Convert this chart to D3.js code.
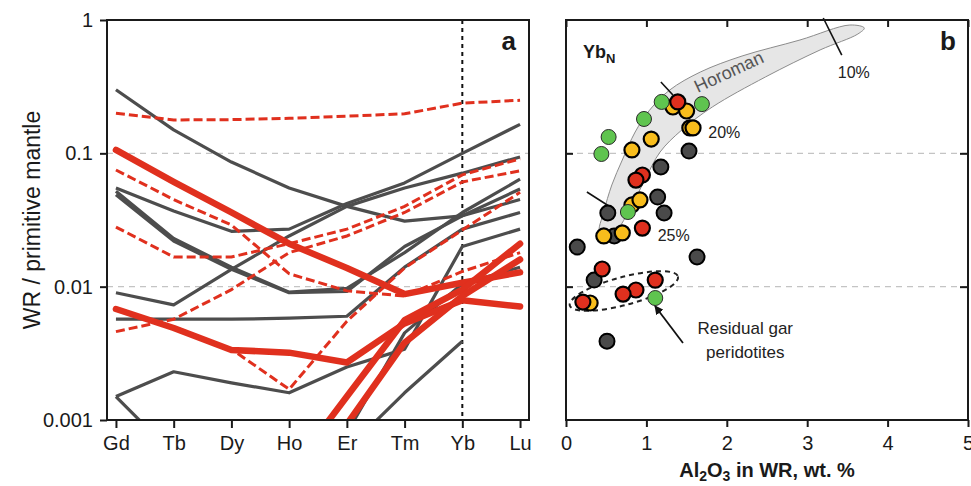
<!DOCTYPE html>
<html>
<head>
<meta charset="utf-8">
<script src="https://cdn.jsdelivr.net/npm/d3@7"></script>
<style>
  body { margin: 0; background: #fff; }
  text { font-family: "Liberation Sans", Arial, sans-serif; }
</style>
</head>
<body>
<div id="chart"></div>
<script>
// ---- data: panel a (REE patterns, WR / primitive mantle) ----
var elements = ["Gd", "Tb", "Dy", "Ho", "Er", "Tm", "Yb", "Lu"];

var grayLines = [
  [0.3, 0.15, 0.086, 0.055, 0.04, 0.031, 0.034, 0.045],
  [0.055, 0.037, 0.026, 0.027, 0.042, 0.06, 0.1, 0.165],
  [0.009, 0.0073, 0.0135, 0.024, 0.04, 0.055, 0.071, 0.094],
  [0.052, 0.023, 0.014, 0.0091, 0.0097, 0.018, 0.036, 0.064],
  [0.049, 0.022, 0.0135, 0.009, 0.0092, 0.02, 0.034, 0.054],
  [0.0057, 0.0057, 0.0057, 0.0058, 0.006, 0.014, 0.027, 0.036],
  [0.0015, 0.0023, 0.0019, 0.0016, 0.0025, 0.0034, 0.02, 0.027],
  [0.0015, 0.00055, 0.0004, 0.0004, 0.0008, 0.0045, 0.0105, 0.014],
  [null, null, null, null, 0.0006, 0.0016, 0.0039, null]
];

var dashedLines = [
  [0.2, 0.178, 0.179, 0.183, 0.19, 0.198, 0.238, 0.25],
  [0.075, 0.045, 0.029, 0.0125, 0.0093, 0.0085, 0.013, 0.018],
  [0.028, 0.0167, 0.0167, 0.021, 0.027, 0.04, 0.069, 0.091],
  [0.0046, 0.0057, 0.0095, 0.018, 0.024, 0.036, 0.061, 0.074],
  [0.0068, 0.005, 0.0034, 0.0017, 0.0055, 0.0138, 0.0266, 0.051]
];

var thickLines = [
  [0.106, 0.061, 0.036, 0.021, 0.0138, 0.0088, 0.0107, 0.0128],
  [0.0068, 0.0049, 0.00335, 0.0032, 0.0027, 0.0053, 0.0079, 0.0071],
  [null, null, null, 0.0004, 0.0015, 0.0056, 0.0095, 0.021],
  [null, null, null, null, 0.00093, 0.0038, 0.0085, 0.016]
];

var yTicks = [0.001, 0.01, 0.1, 1];
var yTickLabels = ["0.001", "0.01", "0.1", "1"];

// ---- data: panel b (Yb_N vs Al2O3) ----
var grayPts = [[1.53, 0.104], [1.18, 0.079], [1.14, 0.047], [0.52, 0.0357], [1.22, 0.0357],
  [0.6, 0.024], [0.14, 0.0198], [1.63, 0.0167], [0.35, 0.0112], [0.51, 0.0039]];
var yellowPts = [[1.33, 0.2226], [1.5, 0.2077], [1.54, 0.155], [1.58, 0.155], [1.06, 0.128],
  [0.82, 0.106], [0.82, 0.041], [0.92, 0.0447], [0.47, 0.024], [0.7, 0.0253], [0.3, 0.00754]];
var greenPts = [[1.19, 0.243], [1.69, 0.234], [0.97, 0.181], [0.53, 0.1326], [0.44, 0.0989],
  [0.77, 0.0363], [1.11, 0.00822]];
var redPts = [[1.39, 0.243], [0.95, 0.0688], [0.87, 0.063], [0.95, 0.0275], [0.45, 0.01357],
  [1.11, 0.0112], [0.87, 0.00944], [0.71, 0.0088], [0.21, 0.00767]];

// Horoman field outline (Al2O3, Yb_N)
var horomanUpper = [[0.42, 0.0257], [0.47, 0.0363], [0.57, 0.0579], [0.7, 0.0891], [0.86, 0.1445],
  [1.04, 0.211], [1.29, 0.2985], [1.67, 0.407], [2.19, 0.537], [2.91, 0.708], [3.53, 0.917], [3.71, 0.871]];
var horomanLower = [[3.63, 0.785], [3.16, 0.596], [2.48, 0.3737], [1.82, 0.2226], [1.44, 0.1496],
  [1.17, 0.1023], [0.98, 0.0631], [0.82, 0.041], [0.6, 0.0257]];

var meltTicks = [
  { label: "10%", from: [3.2, 1.035], to: [3.43, 0.546], at: [3.38, 0.367] },
  { label: "20%", from: [1.18, 0.343], to: [1.33, 0.274], at: [1.77, 0.13] },
  { label: "25%", from: [0.26, 0.0513], to: [0.61, 0.0376], at: [1.14, 0.022] }
];

var W = 971, H = 486;
var plotTop = 20, plotBottom = 420;
var aLeft = 107, aRight = 529, bLeft = 566, bRight = 968;

var svg = d3.select('#chart').append('svg')
  .attr('width', W).attr('height', H);

var y = d3.scaleLog().domain([0.001, 1]).range([plotBottom, plotTop]);
var xa = d3.scalePoint().domain(elements).range([aLeft, aRight]).padding(0.155);
var xb = d3.scaleLinear().domain([0, 5]).range([bLeft, bRight]);

var defs = svg.append('defs');
defs.append('clipPath').attr('id', 'clipA').append('rect')
  .attr('x', aLeft).attr('y', plotTop).attr('width', aRight - aLeft).attr('height', plotBottom - plotTop);
defs.append('marker').attr('id', 'arrow').attr('viewBox', '0 0 10 10')
  .attr('refX', 9).attr('refY', 5).attr('markerWidth', 5).attr('markerHeight', 5)
  .attr('orient', 'auto')
  .append('path').attr('d', 'M0,0 L10,5 L0,10 z').attr('fill', '#111');

// grid lines (dashed)
[0.1, 0.01].forEach(function (v) {
  [[aLeft, aRight], [bLeft, bRight]].forEach(function (r) {
    svg.append('line')
      .attr('x1', r[0]).attr('x2', r[1])
      .attr('y1', y(v)).attr('y2', y(v))
      .attr('stroke', '#c4c4c4').attr('stroke-width', 1.2)
      .attr('stroke-dasharray', '6,5');
  });
});

// ---------- panel a ----------
var gA = svg.append('g').attr('clip-path', 'url(#clipA)');

// Yb dotted marker
gA.append('line')
  .attr('x1', xa('Yb')).attr('x2', xa('Yb'))
  .attr('y1', plotTop).attr('y2', plotBottom)
  .attr('stroke', '#111').attr('stroke-width', 2).attr('stroke-dasharray', '4,4');

var line = d3.line()
  .defined(function (d) { return d != null; })
  .x(function (d, i) { return xa(elements[i]); })
  .y(function (d) { return y(d); });

gA.selectAll('.gray').data(grayLines).enter().append('path')
  .attr('class', 'gray')
  .attr('d', line)
  .attr('fill', 'none').attr('stroke', '#4d4d4d').attr('stroke-width', 3.2)
  .attr('stroke-linejoin', 'round');

gA.selectAll('.dash').data(dashedLines).enter().append('path')
  .attr('class', 'dash')
  .attr('d', line)
  .attr('fill', 'none').attr('stroke', '#e0301e').attr('stroke-width', 3)
  .attr('stroke-dasharray', '9,4');

gA.selectAll('.thick').data(thickLines).enter().append('path')
  .attr('class', 'thick')
  .attr('d', line)
  .attr('fill', 'none').attr('stroke', '#e0301e').attr('stroke-width', 6.5)
  .attr('stroke-linejoin', 'round').attr('stroke-linecap', 'round');

// axes a
svg.append('g').attr('transform', 'translate(' + aLeft + ',0)')
  .call(d3.axisLeft(y).tickValues(yTicks).tickSize(7).tickPadding(7)
    .tickFormat(function (d, i) { return yTickLabels[i]; }));
svg.append('g').attr('transform', 'translate(0,' + plotBottom + ')')
  .call(d3.axisBottom(xa).tickSize(8).tickPadding(8));

svg.append('rect')
  .attr('x', aLeft).attr('y', plotTop).attr('width', aRight - aLeft).attr('height', plotBottom - plotTop)
  .attr('fill', 'none').attr('stroke', '#1a1a1a').attr('stroke-width', 2);

svg.append('text')
  .attr('transform', 'translate(40,' + ((plotTop + plotBottom) / 2) + ') rotate(-90)')
  .attr('text-anchor', 'middle')
  .style('font-size', '23px').style('fill', '#1a1a1a')
  .text('WR / primitive mantle');

svg.append('text').attr('x', 516).attr('y', 50).attr('text-anchor', 'end')
  .style('font-size', '26px').style('font-weight', 'bold').style('fill', '#1a1a1a')
  .text('a');

// ---------- panel b ----------
var gB = svg.append('g');

var band = d3.line()
  .x(function (d) { return xb(d[0]); })
  .y(function (d) { return y(d[1]); })
  .curve(d3.curveCatmullRomClosed);

gB.append('path')
  .attr('d', band(horomanUpper.concat(horomanLower)))
  .attr('fill', '#e6e6e6').attr('stroke', '#8c8c8c').attr('stroke-width', 1);

gB.append('text')
  .attr('transform', 'translate(' + xb(1.64) + ',' + y(0.2835) + ') rotate(-25)')
  .style('font-size', '18px').style('fill', '#555')
  .text('Horoman');

meltTicks.forEach(function (m) {
  gB.append('line')
    .attr('x1', xb(m.from[0])).attr('y1', y(m.from[1]))
    .attr('x2', xb(m.to[0])).attr('y2', y(m.to[1]))
    .attr('stroke', '#111').attr('stroke-width', 1.6);
  gB.append('text')
    .attr('x', xb(m.at[0])).attr('y', y(m.at[1]))
    .style('font-size', '16px').style('fill', '#222')
    .text(m.label);
});

// residual garnet peridotite field
gB.append('ellipse')
  .attr('transform', 'translate(' + xb(0.72) + ',' + y(0.00928) + ') rotate(-15)')
  .attr('rx', 56).attr('ry', 14)
  .attr('fill', 'none').attr('stroke', '#222').attr('stroke-width', 2)
  .attr('stroke-dasharray', '5,4');

function drawPts(data, fill, stroke, sw) {
  gB.selectAll(null).data(data).enter().append('circle')
    .attr('cx', function (d) { return xb(d[0]); })
    .attr('cy', function (d) { return y(d[1]); })
    .attr('r', 7.5)
    .attr('fill', fill).attr('stroke', stroke).attr('stroke-width', sw);
}
drawPts(grayPts, '#4a4a4a', '#000', 2);
drawPts(yellowPts, '#f8bd1c', '#000', 2.2);
drawPts(greenPts, '#5fc44f', '#2a2a2a', 1);
drawPts(redPts, '#e0301e', '#000', 2.2);

gB.append('line')
  .attr('x1', xb(1.455)).attr('y1', y(0.00378))
  .attr('x2', xb(1.107)).attr('y2', y(0.00716))
  .attr('stroke', '#111').attr('stroke-width', 1.8)
  .attr('marker-end', 'url(#arrow)');

gB.append('text').attr('x', xb(2.23)).attr('y', y(0.00442)).attr('text-anchor', 'middle')
  .style('font-size', '17px').style('fill', '#222').text('Residual gar');
gB.append('text').attr('x', xb(2.23)).attr('y', y(0.00292)).attr('text-anchor', 'middle')
  .style('font-size', '17px').style('fill', '#222').text('peridotites');

// axes b
svg.append('g').attr('transform', 'translate(0,' + plotBottom + ')')
  .call(d3.axisBottom(xb).ticks(5).tickSize(7).tickPadding(9).tickFormat(d3.format('d')));
svg.append('g').attr('transform', 'translate(0,' + plotTop + ')')
  .call(d3.axisTop(xb).ticks(5).tickSize(-7).tickFormat(''));
svg.append('g').attr('transform', 'translate(' + bLeft + ',0)')
  .call(d3.axisLeft(y).tickValues([0.01, 0.1]).tickSize(-7).tickFormat(''));
svg.append('g').attr('transform', 'translate(' + bRight + ',0)')
  .call(d3.axisRight(y).tickValues([0.01, 0.1]).tickSize(-8).tickFormat(''));

svg.append('rect')
  .attr('x', bLeft).attr('y', plotTop).attr('width', bRight - bLeft).attr('height', plotBottom - plotTop)
  .attr('fill', 'none').attr('stroke', '#1a1a1a').attr('stroke-width', 2);

var yl = svg.append('text').attr('x', 583).attr('y', 58)
  .style('font-size', '18px').style('font-weight', 'bold').style('fill', '#1a1a1a');
yl.append('tspan').text('Yb');
yl.append('tspan').attr('dy', 5).style('font-size', '13px').text('N');

var xl = svg.append('text').attr('x', xb(2.5)).attr('y', 477).attr('text-anchor', 'middle')
  .style('font-size', '20px').style('font-weight', 'bold').style('fill', '#1a1a1a');
xl.append('tspan').text('Al');
xl.append('tspan').attr('dy', 4).style('font-size', '14px').text('2');
xl.append('tspan').attr('dy', -4).text('O');
xl.append('tspan').attr('dy', 4).style('font-size', '14px').text('3');
xl.append('tspan').attr('dy', -4).text(' in WR, wt. %');

svg.append('text').attr('x', 956).attr('y', 50).attr('text-anchor', 'end')
  .style('font-size', '26px').style('font-weight', 'bold').style('fill', '#1a1a1a')
  .text('b');

// common axis styling
svg.selectAll('.domain').remove();
svg.selectAll('.tick line').attr('stroke', '#1a1a1a').attr('stroke-width', 2);
svg.selectAll('.tick text').style('font-size', '20px').style('fill', '#1a1a1a')
  .style('font-family', '"Liberation Sans", Arial, sans-serif');
</script>
</body>
</html>
